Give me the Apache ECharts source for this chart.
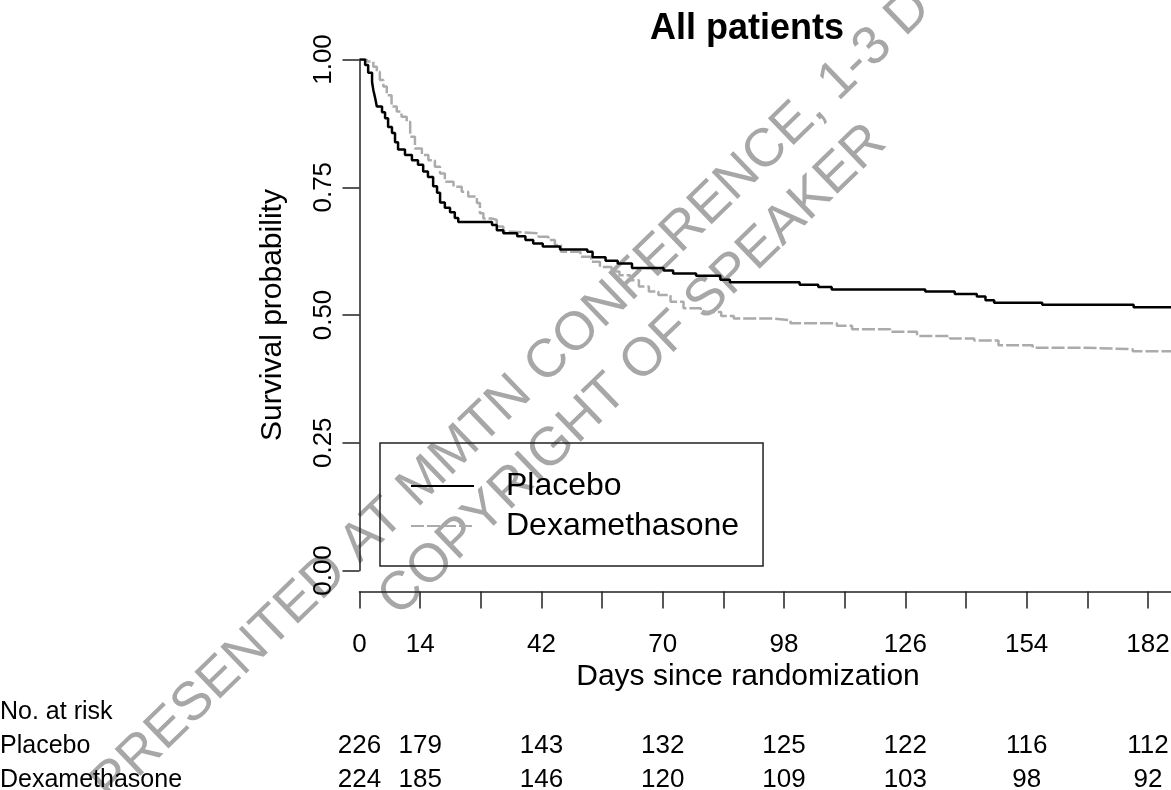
<!DOCTYPE html>
<html>
<head>
<meta charset="utf-8">
<script src="https://cdn.jsdelivr.net/npm/echarts/dist/echarts.min.js"></script>
<style>
  html, body { margin: 0; padding: 0; background: #fff; }
  #chart { width: 1171px; height: 790px; }
</style>
</head>
<body>
<div id="chart"></div>
<script>
// Kaplan-Meier estimates: time of each step (days) and survival after it
const placeboDays = [0, 1.3, 2.0, 2.9, 3.2, 3.6, 4.0, 5.2, 5.9, 6.6, 7.5, 8.2, 8.9, 10.5, 12.1, 13.5, 14.7, 15.8, 17.0, 17.9, 18.6, 19.7, 20.9, 22.0, 22.8, 30.6, 31.7, 33.2, 36.4, 38.3, 40.1, 42.3, 46.3, 52.6, 53.8, 56.8, 59.6, 62.9, 70.2, 72.4, 77.7, 83.3, 85.5, 101.6, 105.9, 109.0, 130.6, 137.4, 142.5, 144.5, 146.5, 157.6, 178.7, 189];
const placeboSurv = [1, 0.989, 0.974, 0.956, 0.940, 0.925, 0.908, 0.897, 0.885, 0.868, 0.856, 0.838, 0.824, 0.813, 0.803, 0.794, 0.781, 0.770, 0.752, 0.739, 0.720, 0.710, 0.701, 0.690, 0.682, 0.676, 0.666, 0.660, 0.654, 0.647, 0.640, 0.634, 0.628, 0.624, 0.613, 0.606, 0.601, 0.592, 0.587, 0.581, 0.577, 0.569, 0.564, 0.559, 0.555, 0.550, 0.546, 0.541, 0.536, 0.529, 0.524, 0.520, 0.515, 0.515];

const dexaDays = [0, 1.7, 3.2, 4.0, 4.7, 5.5, 6.3, 7.4, 8.6, 9.7, 10.9, 11.7, 12.8, 14.4, 15.9, 17.4, 18.6, 19.7, 21.7, 23.6, 25.1, 27.1, 27.8, 28.6, 30.5, 31.7, 33.2, 35.5, 41.3, 43.6, 45.1, 46.5, 51.0, 53.5, 55.5, 58.2, 60.0, 62.5, 64.5, 66.8, 69.0, 71.8, 74.8, 78.8, 83.5, 86.4, 95.8, 99.5, 110.2, 113.7, 122.5, 128.7, 136.3, 141.9, 147.5, 155.4, 167.3, 178.5, 189];
const dexaSurv = [1, 0.996, 0.986, 0.976, 0.960, 0.947, 0.930, 0.908, 0.898, 0.888, 0.878, 0.849, 0.826, 0.813, 0.803, 0.790, 0.777, 0.761, 0.751, 0.741, 0.732, 0.719, 0.699, 0.689, 0.686, 0.673, 0.663, 0.660, 0.653, 0.647, 0.637, 0.624, 0.614, 0.604, 0.594, 0.585, 0.578, 0.568, 0.556, 0.546, 0.539, 0.526, 0.513, 0.506, 0.498, 0.493, 0.490, 0.484, 0.479, 0.472, 0.467, 0.459, 0.454, 0.450, 0.441, 0.436, 0.433, 0.429, 0.429];

// Number at risk table
const riskDays = [0, 14, 42, 70, 98, 126, 154, 182];
const placeboRisk = [226, 179, 143, 132, 125, 122, 116, 112];
const dexaRisk = [224, 185, 146, 120, 109, 103, 98, 92];
const riskRows = ['No. at risk', 'Placebo', 'Dexamethasone'];

// Axis tick labels
const xTickLabels = [0, 14, 42, 70, 98, 126, 154, 182];
const yTickValues = [0, 0.25, 0.5, 0.75, 1];

const FAMILY = 'Liberation Sans';
const FONT = '"Liberation Sans", Arial, sans-serif';
const PLOT_LEFT = 359.5, PLOT_TOP = 59.5, PLOT_H = 511;
const DAY_MAX = 196, PX_PER_DAY = 4.332;
const PLOT_W = DAY_MAX * PX_PER_DAY;
const AXIS_COLOR = '#222';
const WM_ANGLE = 44 * Math.PI / 180;
const WM_FILL = 'rgba(120,120,120,0.65)';

const chart = echarts.init(document.getElementById('chart'), null, { renderer: 'canvas' });

// Counts at risk are placed through the lower grid's axes
function renderRiskCount(params, api) {
  const pos = api.coord([api.value(0), api.value(1)]);
  return {
    type: 'text',
    x: pos[0], y: pos[1],
    style: {
      text: String(api.value(2)),
      font: '26px ' + FONT,
      fill: '#000',
      textAlign: 'center',
      textVerticalAlign: 'middle'
    }
  };
}

const option = {
  animation: false,
  backgroundColor: '#ffffff',
  textStyle: { fontFamily: FAMILY },
  title: {
    text: 'All patients',
    left: 650, top: 11, padding: 0,
    textStyle: { fontFamily: FAMILY, fontSize: 36, fontWeight: 'bold', color: '#000' }
  },
  legend: {
    data: ['Placebo', 'Dexamethasone'],
    orient: 'vertical',
    left: 380, top: 443,
    padding: [23, 24, 20, 30],
    itemGap: 0,
    itemWidth: 63, itemHeight: 14,
    borderColor: AXIS_COLOR, borderWidth: 1.5, borderRadius: 0,
    itemStyle: { color: 'rgba(0,0,0,0)', borderWidth: 0 },
    textStyle: { fontFamily: FAMILY, fontSize: 32, color: '#000', lineHeight: 40, padding: [0, 0, 0, 27] }
  },
  grid: [
    { left: PLOT_LEFT, top: PLOT_TOP, width: PLOT_W, height: PLOT_H, containLabel: false, outerBoundsMode: 'none' },
    { left: PLOT_LEFT, top: 695, width: PLOT_W, height: 102, containLabel: false, outerBoundsMode: 'none' }
  ],
  xAxis: [
    {
      type: 'value', gridIndex: 0, min: 0, max: DAY_MAX, interval: 14,
      offset: 21,
      axisLine: { show: true, onZero: false, lineStyle: { color: AXIS_COLOR, width: 1.5 } },
      axisTick: { show: true, inside: false, length: 17, lineStyle: { color: AXIS_COLOR, width: 1.5 } },
      axisLabel: {
        margin: 40, fontSize: 26, color: '#000', fontFamily: FAMILY, hideOverlap: false,
        formatter: v => (xTickLabels.indexOf(v) >= 0 ? String(v) : '')
      },
      splitLine: { show: false }
    },
    { type: 'value', gridIndex: 1, min: 0, max: DAY_MAX, show: false }
  ],
  yAxis: [
    {
      type: 'value', gridIndex: 0, min: 0, max: 1, interval: 0.25,
      axisLine: { show: true, onZero: false, lineStyle: { color: AXIS_COLOR, width: 1.5 } },
      axisTick: { show: true, inside: false, length: 17, lineStyle: { color: AXIS_COLOR, width: 1.5 } },
      axisLabel: {
        rotate: 90, margin: 23, fontSize: 26, color: '#000', fontFamily: FAMILY, hideOverlap: false,
        formatter: v => (yTickValues.indexOf(v) >= 0 ? v.toFixed(2) : '')
      },
      splitLine: { show: false },
      name: 'Survival probability',
      nameLocation: 'middle', nameGap: 72, nameMoveOverlap: false,
      nameTextStyle: { fontSize: 30, color: '#000', fontFamily: FAMILY }
    },
    {
      type: 'category', gridIndex: 1, data: riskRows, inverse: true,
      axisLine: { show: false }, axisTick: { show: false }, splitLine: { show: false },
      axisLabel: { interval: 0, hideOverlap: false, align: 'left', margin: PLOT_LEFT, fontSize: 25, color: '#000', fontFamily: FAMILY }
    }
  ],
  series: [
    {
      name: 'Dexamethasone', type: 'line', step: 'end',
      xAxisIndex: 0, yAxisIndex: 0,
      symbol: 'none', showSymbol: false, z: 2,
      lineStyle: { color: '#ababab', width: 2.5, type: [13, 3] },
      itemStyle: { color: '#ababab' },
      data: dexaDays.map((d, i) => [d, dexaSurv[i]])
    },
    {
      name: 'Placebo', type: 'line', step: 'end',
      xAxisIndex: 0, yAxisIndex: 0,
      symbol: 'none', showSymbol: false, z: 3,
      lineStyle: { color: '#000', width: 2.5 },
      itemStyle: { color: '#000' },
      data: placeboDays.map((d, i) => [d, placeboSurv[i]])
    },
    {
      name: 'risk-placebo', type: 'custom', xAxisIndex: 1, yAxisIndex: 1,
      silent: true, renderItem: renderRiskCount,
      encode: { x: 0, y: 1 },
      data: riskDays.map((d, i) => [d, 'Placebo', placeboRisk[i]])
    },
    {
      name: 'risk-dexa', type: 'custom', xAxisIndex: 1, yAxisIndex: 1,
      silent: true, renderItem: renderRiskCount,
      encode: { x: 0, y: 1 },
      data: riskDays.map((d, i) => [d, 'Dexamethasone', dexaRisk[i]])
    }
  ],
  graphic: [
    {
      type: 'text', x: 748, y: 677, silent: true,
      style: { text: 'Days since randomization', font: '30px ' + FONT, fill: '#000', textAlign: 'center', textVerticalAlign: 'middle' }
    },
    {
      type: 'group', z: 100, silent: true,
      children: [
        {
          type: 'text', x: 101, y: 793, rotation: WM_ANGLE,
          style: { text: 'PRESENTED AT MMTN CONFERENCE, 1-3 D', font: '54px ' + FONT, fill: WM_FILL, textAlign: 'left', textVerticalAlign: 'middle' }
        },
        {
          type: 'text', x: 388, y: 607, rotation: WM_ANGLE,
          style: { text: 'COPYRIGHT OF SPEAKER', font: '54px ' + FONT, fill: WM_FILL, textAlign: 'left', textVerticalAlign: 'middle' }
        }
      ]
    }
  ]
};

chart.setOption(option);
</script>
</body>
</html>
